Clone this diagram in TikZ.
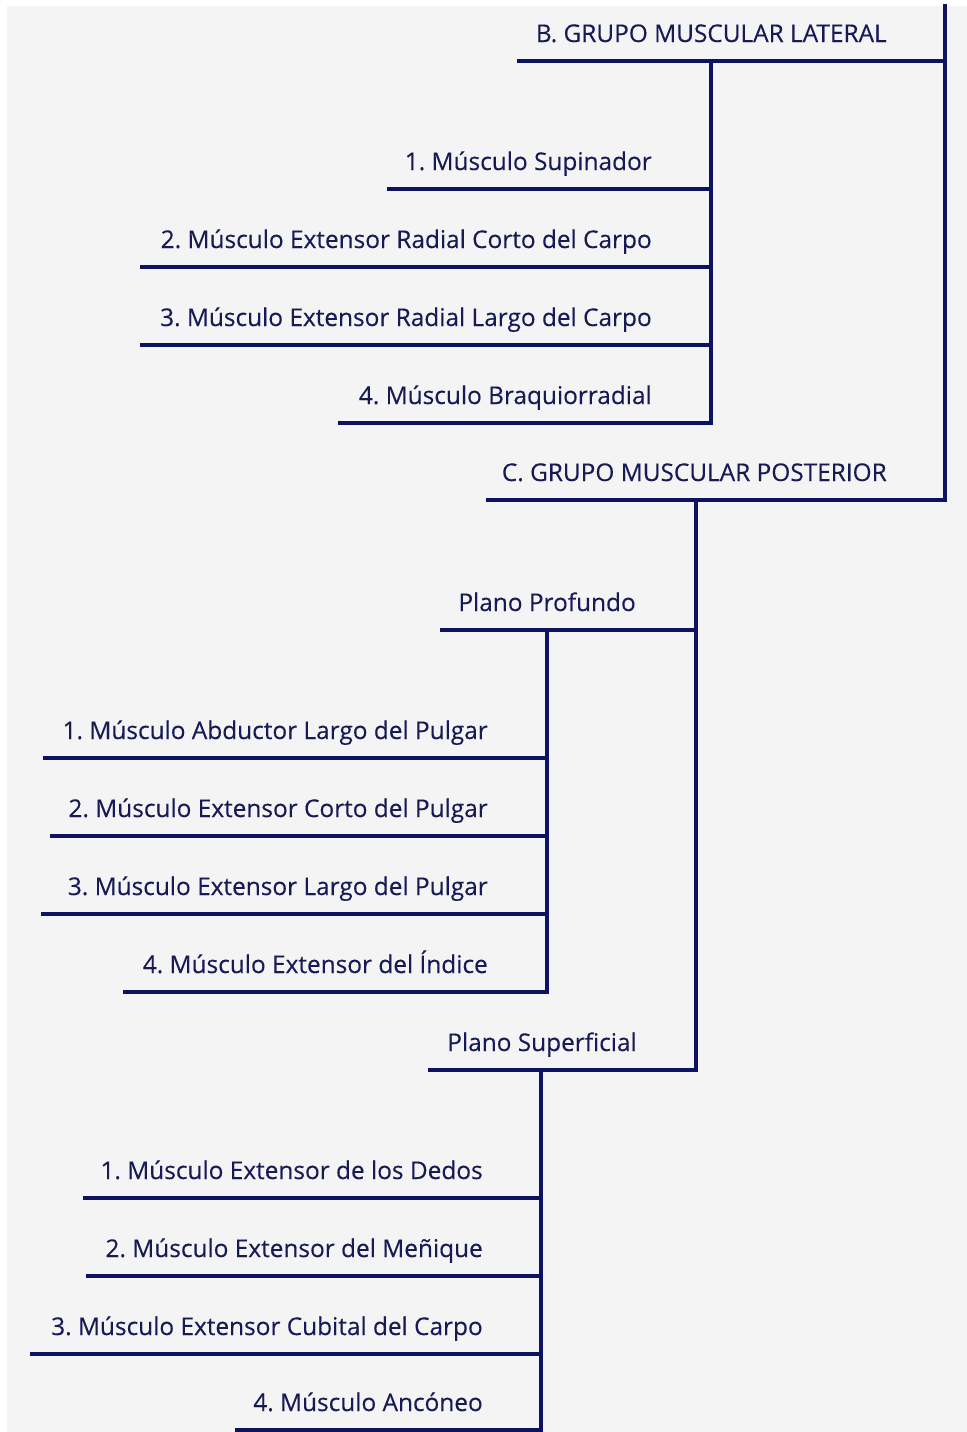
\documentclass[tikz,border=0pt]{standalone}
\usepackage{fontspec}
\setmainfont{Open Sans}[FakeBold=0.25]
\frenchspacing
\definecolor{navy}{HTML}{0D1360}
\definecolor{ink}{HTML}{161B56}
\definecolor{paper}{HTML}{F4F4F4}
\tikzset{
  bar/.style={line width=3.3pt, draw=navy, line cap=rect, line join=miter},
  lbl/.style={anchor=base east, inner sep=0pt, text=ink, font=\fontsize{18.3}{22}\selectfont}
}
\begin{document}
\begin{tikzpicture}[x=0.75pt, y=-0.75pt]
  \useasboundingbox (0,0) rectangle (967,1432);
  \fill[white] (0,0) rectangle (967,1432);
  \fill[paper] (7,6) rectangle (967,1432);

  % main spine
  \coordinate (top) at (945,6);
  \coordinate (jB) at (945,61);
  \coordinate (jC) at (945,500);

  % B. lateral group
  \node[lbl] (B) at (887,42) {B. GRUPO MUSCULAR LATERAL};
  \coordinate (B0) at (519,61);
  \coordinate (sB) at (711,61);
  \foreach \y/\x/\t [count=\i] in {189/389/{1. Músculo Supinador},
      267/142/{2. Músculo Extensor Radial Corto del Carpo},
      345/142/{3. Músculo Extensor Radial Largo del Carpo},
      423/340/{4. Músculo Braquiorradial}} {
    \node[lbl] (b\i) at (652,\y-19) {\t};
    \coordinate (b\i l) at (\x,\y);
    \coordinate (b\i r) at (711,\y);
    \draw[bar] (b\i l) -- (b\i r);
  }
  \draw[bar] (B0) -- (jB);
  \draw[bar] (sB) -- (b4r);

  % C. posterior group
  \node[lbl] (C) at (887,481) {C. GRUPO MUSCULAR POSTERIOR};
  \coordinate (C0) at (488,500);
  \coordinate (sC) at (696,500);
  \draw[bar] (top) -- (jC) -- (C0);

  % plano profundo
  \node[lbl] (pp) at (636,611) {Plano Profundo};
  \coordinate (pp0) at (442,630);
  \coordinate (pp1) at (696,630);
  \coordinate (spp) at (547,630);
  \draw[bar] (pp0) -- (pp1);
  \foreach \y/\x/\t [count=\i] in {758/45/{1. Músculo Abductor Largo del Pulgar},
      836/52/{2. Músculo Extensor Corto del Pulgar},
      914/43/{3. Músculo Extensor Largo del Pulgar},
      992/125/{4. Músculo Extensor del Índice}} {
    \node[lbl] (p\i) at (488,\y-19) {\t};
    \coordinate (p\i l) at (\x,\y);
    \coordinate (p\i r) at (547,\y);
    \draw[bar] (p\i l) -- (p\i r);
  }
  \draw[bar] (spp) -- (p4r);

  % plano superficial
  \node[lbl] (ps) at (637,1051) {Plano Superficial};
  \coordinate (ps0) at (430,1070);
  \coordinate (ps1) at (696,1070);
  \coordinate (sps) at (541,1070);
  \coordinate (bot) at (541,1440);
  \draw[bar] (sC) -- (ps1) -- (ps0);
  \foreach \y/\x/\t [count=\i] in {1198/85/{1. Músculo Extensor de los Dedos},
      1276/88/{2. Músculo Extensor del Meñique},
      1354/32/{3. Músculo Extensor Cubital del Carpo},
      1430/237/{4. Músculo Ancóneo}} {
    \node[lbl] (s\i) at (483,\y-19) {\t};
    \coordinate (s\i l) at (\x,\y);
    \coordinate (s\i r) at (541,\y);
    \draw[bar] (s\i l) -- (s\i r);
  }
  \draw[bar] (sps) -- (bot);
\end{tikzpicture}
\end{document}
